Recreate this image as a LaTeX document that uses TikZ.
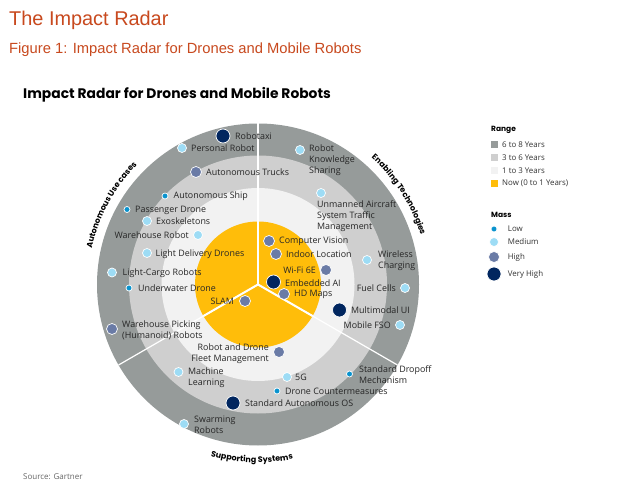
\documentclass[tikz,border=0pt]{standalone}
\usepackage{fontspec}
\setmainfont{Open Sans}
\newfontfamily\titlefont{Liberation Sans}
\newfontfamily\headfont{Poppins}
\usetikzlibrary{calc}
\usetikzlibrary{decorations.text}
\definecolor{titleorange}{HTML}{C8491E}
\definecolor{ringsix}{HTML}{969B9A}
\definecolor{ringthree}{HTML}{CFCFCF}
\definecolor{ringone}{HTML}{F2F2F2}
\definecolor{ringnow}{HTML}{FFBD0A}
\definecolor{masslow}{HTML}{0A93CE}
\definecolor{massmedium}{HTML}{9DDCF5}
\definecolor{masshigh}{HTML}{6A7BA6}
\definecolor{massveryhigh}{HTML}{01265F}
\tikzstyle{blip}=[circle,inner sep=0pt,draw=white,line width=0.7pt]
\tikzstyle{low}=[blip,fill=masslow,minimum size=6pt]
\tikzstyle{medium}=[blip,fill=massmedium,minimum size=9pt]
\tikzstyle{high}=[blip,fill=masshigh,minimum size=11pt]
\tikzstyle{veryhigh}=[blip,fill=massveryhigh,minimum size=14pt]
\tikzstyle{radarlabel}=[inner sep=0pt,align=left,text=black!85,font=\fontsize{8.9}{11}\selectfont]
\tikzstyle{keylabel}=[inner sep=0pt,anchor=west,text=black!80,font=\fontsize{7.9}{9}\selectfont]
\tikzstyle{keytitle}=[inner sep=0pt,anchor=west,font=\headfont\bfseries\fontsize{7.5}{9}\selectfont]
\tikzstyle{spoke}=[white,line width=1.2pt]
\tikzstyle{ringtitle}=[postaction={decorate}]
% name, mass, blip x, blip y, anchor, label x, label y, text (y counted from the top)
\newcommand{\drawitem}[8]{
  \node[#2] (#1) at (#3,484-#4) {};
  \node[radarlabel,anchor=#5] (#1label) at (#6,484-#7) {#8};
}
\begin{document}
\begin{tikzpicture}[x=1pt,y=1pt]
  \useasboundingbox (0,0) rectangle (617,484);
  \fill[white] (0,0) rectangle (617,484);
  \node[inner sep=0pt,anchor=west,text=titleorange,font=\titlefont\fontsize{19.9}{22}\selectfont] (pagetitle) at (9,464) {The Impact Radar};
  \node[inner sep=0pt,anchor=west,text=titleorange,font=\titlefont\fontsize{14.75}{18}\selectfont] (figuretitle) at (9,434) {Figure 1: Impact Radar for Drones and Mobile Robots};
  \node[inner sep=0pt,anchor=west,font=\headfont\bfseries\fontsize{13.85}{16}\selectfont] (charttitle) at (23,389) {Impact Radar for Drones and Mobile Robots};

  \coordinate (center) at (258,199.5);
  \foreach \r/\c in {161/ringsix,129/ringthree,96.5/ringone,63/ringnow} {
    \fill[\c] (center) circle (\r);
  }
  \foreach \a in {90,210,330} {
    \draw[spoke] (center) -- ++(\a:161);
    \draw[spoke,line width=2pt] (center) -- ++(\a:63);
  }

  \path[ringtitle,decoration={text along path,text align=center,text={|\headfont\bfseries\fontsize{8}{9}\selectfont|Autonomous Use cases}}]
    (center) ++(172:170) arc (172:131:170);
  \path[ringtitle,decoration={text along path,text align=center,text={|\headfont\bfseries\fontsize{8}{9}\selectfont|Enabling Technologies}}]
    (center) ++(53:170) arc (53:12:170);
  \path[ringtitle,decoration={text along path,text align=center,text={|\headfont\bfseries\fontsize{8}{9}\selectfont|Supporting Systems}}]
    (center) ++(250:178) arc (250:286:178);

  \drawitem{robotaxi}{veryhigh}{223}{136}{west}{235}{136}{Robotaxi}
  \drawitem{personalrobot}{medium}{182}{148}{west}{191}{148}{Personal Robot}
  \drawitem{trucks}{high}{196}{172}{west}{206}{172}{Autonomous Trucks}
  \drawitem{ship}{low}{165}{196}{west}{173.5}{196}{Autonomous Ship}
  \drawitem{passenger}{low}{127}{209.5}{west}{135}{210}{Passenger Drone}
  \drawitem{exo}{medium}{147}{221}{west}{156}{221}{Exoskeletons}
  \drawitem{warehouse}{medium}{198}{235}{east}{189}{235}{Warehouse Robot}
  \drawitem{delivery}{medium}{147}{253}{west}{155.5}{254}{Light Delivery Drones}
  \drawitem{cargo}{medium}{112}{272.5}{west}{122.5}{273}{Light-Cargo Robots}
  \drawitem{underwater}{low}{129}{288}{west}{138}{288}{Underwater Drone}
  \drawitem{slam}{high}{245}{301}{east}{234}{301}{SLAM}
  \drawitem{picking}{high}{112}{329}{west}{122}{330.5}{Warehouse Picking\\(Humanoid) Robots}
  \drawitem{fleet}{high}{279}{352}{east,align=right}{269}{353.5}{Robot and Drone\\Fleet Management}
  \drawitem{learning}{medium}{178.5}{372}{west}{188}{377.5}{Machine\\Learning}
  \drawitem{autoos}{veryhigh}{233}{403}{west}{245}{403}{Standard Autonomous OS}
  \drawitem{swarming}{medium}{184}{424}{west}{194}{424.5}{Swarming\\Robots}
  \drawitem{knowledge}{medium}{300}{150}{west}{309}{160}{Robot\\Knowledge\\Sharing}
  \drawitem{traffic}{medium}{321}{193}{west}{317}{216.5}{Unmanned Aircraft\\System Traffic\\Management}
  \drawitem{vision}{high}{269}{241}{west}{279}{241}{Computer Vision}
  \drawitem{indoor}{high}{276}{254}{west}{286}{254}{Indoor Location}
  \drawitem{wifi}{high}{326}{270}{east}{316}{270}{Wi-Fi 6E}
  \drawitem{embedded}{veryhigh}{273.5}{282}{west}{285}{283}{Embedded AI}
  \drawitem{hdmaps}{high}{284}{294}{west}{294}{294}{HD Maps}
  \drawitem{wireless}{medium}{367}{260}{west}{378}{260.5}{Wireless\\Charging}
  \drawitem{fuel}{medium}{405}{288}{east}{396}{288}{Fuel Cells}
  \drawitem{multimodal}{veryhigh}{339.5}{310}{west}{351}{310}{Multimodal UI}
  \drawitem{fso}{medium}{400}{325}{east}{391}{325}{Mobile FSO}
  \drawitem{dropoff}{low}{349.5}{374}{west}{359}{374.5}{Standard Dropoff\\Mechanism}
  \drawitem{fiveg}{medium}{287}{377}{west}{295}{377}{5G}
  \drawitem{counter}{low}{277}{391}{west}{285}{391}{Drone Countermeasures}

  % legend
  \node[keytitle] (rangetitle) at (491,354) {Range};
  \foreach \y/\c/\t/\n in {339.3/ringsix/6 to 8 Years/six,326.3/ringthree/3 to 6 Years/three,313.3/ringone/1 to 3 Years/one,300.7/ringnow/Now (0 to 1 Years)/now} {
    \node[fill=\c,inner sep=0pt,minimum size=7pt] (key\n) at (494.5,\y) {};
    \node[keylabel] (key\n label) at (502,\y) {\t};
  }
  \node[keytitle] (masstitle) at (491,269.5) {Mass};
  \foreach \y/\c/\t/\n in {255/low/Low/low,242/medium/Medium/medium,227/high/High/high,210/veryhigh/Very High/veryhigh} {
    \node[\c] (mass\n) at (494,\y) {};
    \node[keylabel] (mass\n label) at (507.7,\y) {\t};
  }

  \node[inner sep=0pt,anchor=west,text=black!60,font=\fontsize{8}{9}\selectfont] (source) at (23,7) {Source: Gartner};
\end{tikzpicture}
\end{document}
